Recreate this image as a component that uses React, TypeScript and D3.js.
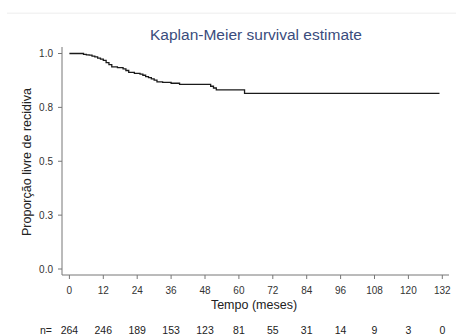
import { useEffect, useRef } from 'react';
import * as d3 from 'd3';

// Kaplan-Meier step points (months, survival)
const eventTimes = [0, 5, 6, 7, 8, 9, 10, 11, 12, 13, 14, 15, 17, 19, 20, 21, 23, 25, 26, 27, 28, 29, 30, 31, 33, 36, 39, 50, 51, 52, 62];
const survival = [1, 0.996, 0.994, 0.992, 0.988, 0.984, 0.979, 0.974, 0.968, 0.958, 0.948, 0.938, 0.934, 0.929, 0.921, 0.912, 0.908, 0.904, 0.899, 0.893, 0.888, 0.882, 0.876, 0.868, 0.866, 0.862, 0.857, 0.848, 0.84, 0.831, 0.815];
const lastTime = 131;

const xTicks = [0, 12, 24, 36, 48, 60, 72, 84, 96, 108, 120, 132];
const yTicks = [0, 0.25, 0.5, 0.75, 1];
const atRisk = [264, 246, 189, 153, 123, 81, 55, 31, 14, 9, 3, 0];

const W = 456;
const H = 335;
const FONT = 'Arial, "Liberation Sans", Helvetica, sans-serif';

const App = () => {
  const ref = useRef<SVGSVGElement>(null);

  useEffect(() => {
    if (!ref.current) return;
    const svg = d3.select(ref.current);
    svg.selectAll('*').remove();

    const x = d3.scaleLinear().domain([0, 132]).range([69.4, 442.3]);
    const y = d3.scaleLinear().domain([0, 1]).range([269, 53.5]);

    // faint strip at the top
    svg.append('rect')
      .attr('x', 7).attr('y', 12.5)
      .attr('width', W - 7).attr('height', 1.5)
      .attr('fill', '#f3f3f3');

    // title
    svg.append('text')
      .attr('x', 256).attr('y', 40)
      .attr('text-anchor', 'middle')
      .style('font-family', FONT)
      .style('font-size', '15.5px')
      .style('fill', '#3a4c7c')
      .text('Kaplan-Meier survival estimate');

    // Y axis
    const yAxis = svg.append('g').attr('transform', 'translate(62,0)');
    yAxis.append('line')
      .attr('x1', 0).attr('x2', 0).attr('y1', 47).attr('y2', 275)
      .attr('stroke', '#777').attr('stroke-width', 1);
    yTicks.forEach(t => {
      yAxis.append('line')
        .attr('x1', -4).attr('x2', 0).attr('y1', y(t)).attr('y2', y(t))
        .attr('stroke', '#777');
      yAxis.append('text')
        .attr('x', -9).attr('y', y(t) + 3.5)
        .attr('text-anchor', 'end')
        .style('font-family', FONT)
        .style('font-size', '10px')
        .style('fill', '#333')
        .text(d3.format('.1f')(t));
    });

    // X axis
    const xAxis = svg.append('g').attr('transform', 'translate(0,275)');
    xAxis.append('line')
      .attr('x1', 62).attr('x2', 449).attr('y1', 0).attr('y2', 0)
      .attr('stroke', '#777');
    xTicks.forEach(t => {
      xAxis.append('line')
        .attr('x1', x(t)).attr('x2', x(t)).attr('y1', 0).attr('y2', 4)
        .attr('stroke', '#777');
      xAxis.append('text')
        .attr('x', x(t)).attr('y', 18.5)
        .attr('text-anchor', 'middle')
        .style('font-family', FONT)
        .style('font-size', '10px')
        .style('fill', '#333')
        .text(t);
    });

    // axis titles
    svg.append('text')
      .attr('x', 254).attr('y', 308.5)
      .attr('text-anchor', 'middle')
      .style('font-family', FONT)
      .style('font-size', '12.5px')
      .style('fill', '#222')
      .text('Tempo (meses)');

    svg.append('text')
      .attr('transform', 'translate(31,162) rotate(-90)')
      .attr('text-anchor', 'middle')
      .style('font-family', FONT)
      .style('font-size', '12.5px')
      .style('fill', '#222')
      .text('Proporção livre de recidiva');

    // survival curve
    const pts: [number, number][] = eventTimes.map((t, i) => [t, survival[i]]);
    pts.push([lastTime, survival[survival.length - 1]]);
    const line = d3.line<[number, number]>()
      .x(d => x(d[0]))
      .y(d => y(d[1]))
      .curve(d3.curveStepAfter);
    svg.append('path')
      .attr('d', line(pts))
      .attr('fill', 'none')
      .attr('stroke', '#1a1a1a')
      .attr('stroke-width', 1.3);

    // number at risk
    svg.append('text')
      .attr('x', 52).attr('y', 333.5)
      .attr('text-anchor', 'end')
      .style('font-family', FONT)
      .style('font-size', '10.5px')
      .style('fill', '#222')
      .text('n=');
    atRisk.forEach((n, i) => {
      svg.append('text')
        .attr('x', x(xTicks[i])).attr('y', 333.5)
        .attr('text-anchor', 'middle')
        .style('font-family', FONT)
        .style('font-size', '10.5px')
        .style('fill', '#222')
        .text(n);
    });
  }, []);

  return (
    <svg
      ref={ref}
      width={W}
      height={H}
      style={{ position: 'absolute', left: 0, top: 0, background: '#fff' }}
    />
  );
};

export default App;
